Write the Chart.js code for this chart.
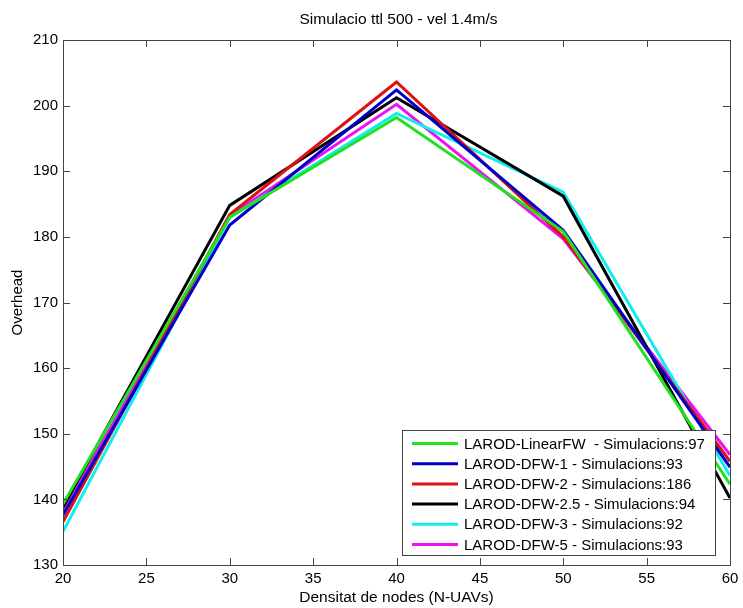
<!DOCTYPE html>
<html>
<head>
<meta charset="utf-8">
<script src="https://cdn.jsdelivr.net/npm/chart.js@4/dist/chart.umd.min.js"></script>
<style>
html,body{margin:0;padding:0;background:#fff;}
#wrap{width:743px;height:608px;}
</style>
</head>
<body>
<div id="wrap"><canvas id="c" width="743" height="608"></canvas></div>
<script>
const xValues = [20, 30, 40, 50, 60];
const seriesNames = [
  "LAROD-LinearFW  - Simulacions:97",
  "LAROD-DFW-1 - Simulacions:93",
  "LAROD-DFW-2 - Simulacions:186",
  "LAROD-DFW-2.5 - Simulacions:94",
  "LAROD-DFW-3 - Simulacions:92",
  "LAROD-DFW-5 - Simulacions:93"
];
const linearFW = [139.3, 183.0, 198.2, 180.8, 142.3];
const dfw1     = [137.6, 181.8, 202.4, 181.0, 144.9];
const dfw2     = [136.6, 183.4, 203.6, 180.0, 145.8];
const dfw25    = [138.8, 184.8, 201.2, 186.2, 140.2];
const dfw3     = [135.1, 183.0, 198.8, 186.8, 143.6];
const dfw5     = [138.0, 183.2, 200.2, 179.7, 146.8];
const seriesColors = ["#22e022", "#0000cc", "#dd1111", "#000000", "#11eeee", "#ee11ee"];
const xTicks = [20, 25, 30, 35, 40, 45, 50, 55, 60];
const yTicks = [130, 140, 150, 160, 170, 180, 190, 200, 210];
const titleText = "Simulacio ttl 500 - vel 1.4m/s";
const xTitle = "Densitat de nodes (N-UAVs)";
const yTitle = "Overhead";

const allSeries = [linearFW, dfw1, dfw2, dfw25, dfw3, dfw5];
const datasets = allSeries.map((vals, i) => ({
  label: seriesNames[i],
  data: vals.map((v, j) => ({x: xValues[j], y: v})),
  borderColor: seriesColors[i],
  backgroundColor: seriesColors[i],
  borderWidth: 3,
  pointRadius: 0,
  tension: 0,
  fill: false
}));

const FONT = '"Liberation Sans", Arial, sans-serif';

const matlabBox = {
  id: 'matlabBox',
  afterDatasetsDraw(chart) {
    const ctx = chart.ctx;
    const a = chart.chartArea;
    const xs = chart.scales.x, ys = chart.scales.y;
    ctx.save();
    ctx.strokeStyle = '#444';
    ctx.lineWidth = 1;
    ctx.beginPath();
    ctx.rect(Math.round(a.left) + 0.5, Math.round(a.top) + 0.5, Math.round(a.right - a.left), Math.round(a.bottom - a.top));
    ctx.stroke();
    const tl = 7;
    ctx.beginPath();
    xTicks.forEach(t => {
      const px = Math.round(xs.getPixelForValue(t)) + 0.5;
      ctx.moveTo(px, a.bottom); ctx.lineTo(px, a.bottom - tl);
      ctx.moveTo(px, a.top); ctx.lineTo(px, a.top + tl);
    });
    yTicks.forEach(t => {
      const py = Math.round(ys.getPixelForValue(t)) + 0.5;
      ctx.moveTo(a.left, py); ctx.lineTo(a.left + tl, py);
      ctx.moveTo(a.right, py); ctx.lineTo(a.right - tl, py);
    });
    ctx.stroke();

    // legend
    const lx = 402, ly = 430, lw = 313, lh = 125;
    ctx.fillStyle = '#fff';
    ctx.fillRect(lx, ly, lw, lh);
    ctx.strokeStyle = '#444';
    ctx.strokeRect(lx + 0.5, ly + 0.5, lw, lh);
    ctx.font = '15px ' + FONT;
    ctx.textBaseline = 'middle';
    ctx.textAlign = 'left';
    chart.data.datasets.forEach((ds, i) => {
      const y = ly + 13.5 + i * 20.2;
      ctx.strokeStyle = ds.borderColor;
      ctx.lineWidth = 3;
      ctx.beginPath();
      ctx.moveTo(412, y); ctx.lineTo(458, y);
      ctx.stroke();
      ctx.fillStyle = '#000';
      ctx.fillText(ds.label, 464, y + 1);
    });

    // title
    ctx.font = '15.5px ' + FONT;
    ctx.textAlign = 'center';
    ctx.fillStyle = '#000';
    ctx.fillText(titleText, (a.left + a.right) / 2 + 2, 20);
    ctx.restore();
  }
};

new Chart(document.getElementById('c'), {
  type: 'line',
  data: { datasets },
  options: {
    responsive: false,
    animation: false,
    devicePixelRatio: 1,
    layout: { padding: { top: 40, right: 13, left: 0, bottom: 0 } },
    plugins: { legend: { display: false }, title: { display: false }, tooltip: { enabled: false } },
    scales: {
      x: {
        type: 'linear', min: 20, max: 60,
        afterBuildTicks(s) { s.ticks = xTicks.map(v => ({value: v})); },
        afterFit(s) { s.height = 43; s.paddingLeft = 0; s.paddingRight = 0; },
        grid: { display: false, tickLength: 0 }, border: { display: false },
        ticks: { color: '#000', font: { size: 15, family: FONT }, padding: 5, maxRotation: 0, autoSkip: false },
        title: { display: true, text: xTitle, color: '#000', font: { size: 15.5, family: FONT }, padding: { top: 1, bottom: 1 } }
      },
      y: {
        type: 'linear', min: 130, max: 210,
        afterBuildTicks(s) { s.ticks = yTicks.map(v => ({value: v})); },
        afterFit(s) { s.width = 63; s.paddingTop = 0; s.paddingBottom = 0; },
        grid: { display: false, tickLength: 0 }, border: { display: false },
        ticks: { color: '#000', font: { size: 15, family: FONT }, padding: 5 },
        title: { display: true, text: yTitle, color: '#000', font: { size: 15, family: FONT }, padding: { top: 9, bottom: 9 } }
      }
    }
  },
  plugins: [matlabBox]
});
</script>
</body>
</html>
